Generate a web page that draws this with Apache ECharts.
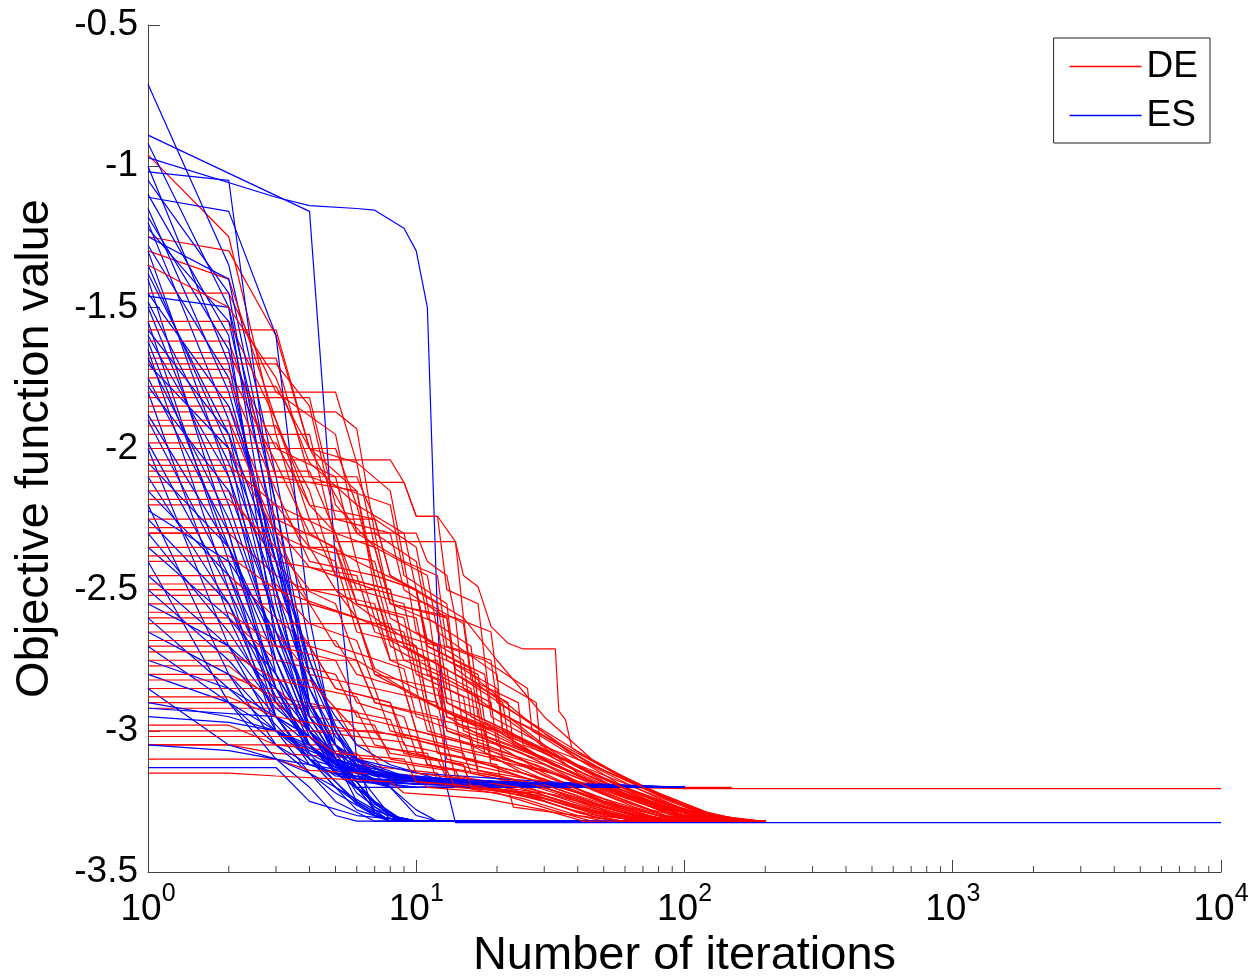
<!DOCTYPE html>
<html>
<head>
<meta charset="utf-8">
<script src="https://cdn.jsdelivr.net/npm/echarts@6/dist/echarts.min.js"></script>
<style>
html,body{margin:0;padding:0;background:#fff;}
#chart{width:1254px;height:980px;}
</style>
</head>
<body>
<div id="chart"></div>
<script>
// Axis ticks
const xMajorTicks = [1, 10, 100, 1000, 10000];
const xMinorTicks = [2,3,4,5,6,7,8,9,20,30,40,50,60,70,80,90,200,300,400,500,600,700,800,900,2000,3000,4000,5000,6000,7000,8000,9000];
const yTicks = [-3.5, -3, -2.5, -2, -1.5, -1, -0.5];

// DE runs: [iteration, best objective value] breakpoints
const deRuns = [
  [[1,-0.96],[2,-1.25],[3,-1.95],[4,-2.35],[5,-2.5],[7,-2.6],[8,-2.75],[12,-2.75],[13,-2.95],[20,-3.05],[30,-3.15],[50,-3.25],[80,-3.3],[120,-3.32],[200,-3.32]],
  [[1,-1.25],[2,-1.3],[3,-1.6],[4,-2.0],[6,-2.3],[7,-2.3],[8,-2.55],[14,-2.6],[15,-2.85],[25,-3.0],[40,-3.15],[70,-3.25],[110,-3.3],[160,-3.32],[200,-3.32]],
  [[1,-1.66],[2,-1.66],[3,-2.0],[5,-2.1],[6,-2.4],[10,-2.5],[11,-2.7],[18,-2.8],[19,-2.95],[30,-3.05],[45,-3.15],[80,-3.25],[130,-3.31],[180,-3.32],[200,-3.32]],
  [[1,-1.68],[3,-1.68],[4,-2.1],[8,-2.2],[9,-2.45],[13,-2.55],[14,-2.8],[22,-2.9],[23,-3.05],[35,-3.12],[55,-3.2],[90,-3.28],[140,-3.32],[200,-3.32]],
  [[1,-1.78],[3,-1.78],[4,-2.0],[6,-2.05],[7,-2.35],[11,-2.45],[12,-2.65],[20,-2.8],[21,-3.0],[35,-3.1],[60,-3.2],[100,-3.205],[10000,-3.205]],
  [[1,-1.87],[5,-1.87],[6,-1.93],[7,-2.3],[10,-2.4],[11,-2.6],[16,-2.7],[17,-2.9],[28,-3.0],[45,-3.12],[70,-3.2],[110,-3.28],[170,-3.32],[200,-3.32]],
  [[1,-2.0],[5,-2.0],[6,-2.2],[9,-2.3],[10,-2.5],[15,-2.6],[16,-2.8],[25,-2.95],[40,-3.1],[65,-3.2],[100,-3.27],[150,-3.32],[200,-3.32]],
  [[1,-2.04],[8,-2.04],[9,-2.12],[10,-2.24],[12,-2.24],[14,-2.33],[15,-2.6],[20,-2.75],[30,-2.95],[45,-3.1],[70,-3.2],[120,-3.3],[190,-3.32],[200,-3.32]],
  [[1,-2.12],[9,-2.12],[10,-2.24],[12,-2.24],[13,-2.5],[17,-2.55],[18,-2.75],[26,-2.85],[27,-3.0],[40,-3.1],[60,-3.2],[90,-3.26],[130,-3.32],[200,-3.32]],
  [[1,-1.95],[4,-1.95],[5,-2.33],[14,-2.33],[15,-2.45],[17,-2.49],[19,-2.63],[22,-2.69],[25,-2.71],[33,-2.71],[34,-2.93],[36,-2.96],[38,-3.06],[55,-3.15],[80,-3.22],[130,-3.3],[195,-3.32],[200,-3.32]],
  [[1,-2.2],[3,-2.2],[4,-2.35],[7,-2.4],[8,-2.6],[12,-2.7],[13,-2.9],[20,-3.0],[30,-3.1],[50,-3.2],[80,-3.27],[120,-3.32],[200,-3.32]],
  [[1,-2.3],[2,-2.3],[3,-2.45],[5,-2.55],[6,-2.75],[9,-2.85],[10,-3.0],[16,-3.05],[25,-3.15],[40,-3.22],[70,-3.3],[100,-3.32],[200,-3.32]],
  [[1,-2.4],[3,-2.4],[4,-2.55],[6,-2.6],[7,-2.8],[11,-2.9],[12,-3.05],[20,-3.1],[35,-3.2],[60,-3.28],[90,-3.32],[200,-3.32]],
  [[1,-2.5],[5,-2.5],[6,-2.6],[8,-2.65],[9,-2.85],[14,-2.95],[15,-3.1],[25,-3.15],[40,-3.22],[65,-3.3],[100,-3.32],[200,-3.32]],
  [[1,-2.5],[7,-2.5],[8,-2.7],[10,-2.75],[11,-2.95],[18,-3.0],[19,-3.12],[30,-3.17],[50,-3.25],[80,-3.31],[110,-3.32],[200,-3.32]],
  [[1,-2.52],[3,-2.52],[4,-2.7],[6,-2.75],[7,-2.9],[12,-2.95],[13,-3.1],[22,-3.15],[40,-3.22],[70,-3.3],[100,-3.32],[200,-3.32]],
  [[1,-2.6],[2,-2.6],[3,-2.75],[5,-2.8],[6,-2.95],[10,-3.0],[11,-3.12],[18,-3.16],[30,-3.2],[50,-3.28],[75,-3.32],[200,-3.32]],
  [[1,-2.7],[4,-2.7],[5,-2.85],[8,-2.9],[9,-3.02],[15,-3.08],[16,-3.15],[28,-3.2],[45,-3.26],[70,-3.31],[100,-3.32],[200,-3.32]],
  [[1,-2.77],[2,-2.77],[3,-2.9],[6,-2.93],[7,-3.05],[12,-3.1],[13,-3.17],[25,-3.2],[40,-3.25],[60,-3.3],[90,-3.32],[200,-3.32]],
  [[1,-2.85],[3,-2.85],[4,-2.95],[7,-2.98],[8,-3.1],[14,-3.14],[15,-3.2],[28,-3.22],[45,-3.28],[70,-3.32],[200,-3.32]],
  [[1,-2.92],[5,-2.92],[6,-3.0],[10,-3.02],[11,-3.12],[20,-3.16],[35,-3.22],[55,-3.28],[80,-3.32],[200,-3.32]],
  [[1,-3.05],[2,-3.05],[3,-3.08],[7,-3.1],[8,-3.17],[15,-3.2],[25,-3.24],[40,-3.3],[60,-3.32],[200,-3.32]],
  [[1,-3.05],[5,-3.05],[6,-3.12],[12,-3.15],[13,-3.2],[22,-3.2],[23,-3.27],[40,-3.3],[50,-3.32],[200,-3.32]],
  [[1,-1.55],[2,-1.55],[3,-1.9],[4,-2.2],[5,-2.3],[7,-2.35],[8,-2.55],[12,-2.62],[13,-2.85],[22,-2.95],[35,-3.1],[55,-3.2],[90,-3.28],[140,-3.32],[200,-3.32]],
  [[1,-1.72],[2,-1.72],[3,-2.05],[4,-2.3],[6,-2.4],[7,-2.6],[10,-2.7],[11,-2.9],[18,-3.0],[30,-3.1],[50,-3.2],[85,-3.27],[125,-3.32],[200,-3.32]],
  [[1,-1.92],[3,-1.92],[4,-2.15],[5,-2.45],[8,-2.5],[9,-2.7],[14,-2.8],[15,-3.0],[25,-3.08],[40,-3.18],[70,-3.26],[110,-3.32],[200,-3.32]],
  [[1,-2.08],[4,-2.08],[5,-2.3],[6,-2.5],[9,-2.55],[10,-2.75],[16,-2.85],[17,-3.05],[30,-3.12],[50,-3.2],[150,-3.2]],
  [[1,-1.3],[2,-1.4],[3,-1.9],[4,-2.25],[7,-2.25],[8,-2.45],[12,-2.55],[13,-2.75],[20,-2.85],[21,-3.0],[35,-3.1],[60,-3.2],[95,-3.28],[150,-3.32],[200,-3.32]],
  [[1,-1.45],[2,-1.45],[3,-1.8],[5,-1.95],[6,-2.3],[9,-2.4],[10,-2.65],[15,-2.75],[16,-2.95],[26,-3.05],[42,-3.15],[70,-3.24],[115,-3.31],[175,-3.32],[200,-3.32]],
  [[1,-1.62],[2,-1.62],[3,-2.1],[6,-2.15],[7,-2.5],[11,-2.55],[12,-2.8],[19,-2.9],[20,-3.05],[33,-3.12],[55,-3.22],[90,-3.3],[130,-3.32],[200,-3.32]],
  [[1,-1.85],[2,-1.85],[3,-2.25],[5,-2.35],[6,-2.6],[9,-2.65],[10,-2.85],[17,-2.92],[18,-3.08],[30,-3.14],[50,-3.22],[85,-3.3],[120,-3.32],[200,-3.32]],
  [[1,-2.15],[2,-2.15],[3,-2.4],[6,-2.45],[7,-2.65],[11,-2.72],[12,-2.92],[20,-3.0],[32,-3.12],[55,-3.21],[90,-3.29],[135,-3.32],[200,-3.32]],
  [[1,-2.25],[4,-2.25],[5,-2.45],[8,-2.5],[9,-2.7],[13,-2.78],[14,-2.98],[24,-3.06],[40,-3.16],[65,-3.24],[100,-3.3],[150,-3.32],[200,-3.32]],
  [[1,-2.45],[2,-2.45],[3,-2.6],[4,-2.7],[5,-2.85],[8,-2.9],[9,-3.05],[16,-3.1],[28,-3.18],[48,-3.26],[75,-3.31],[105,-3.32],[200,-3.32]],
  [[1,-2.55],[4,-2.55],[5,-2.7],[9,-2.78],[10,-2.95],[16,-3.02],[17,-3.14],[30,-3.18],[50,-3.25],[80,-3.3],[115,-3.32],[200,-3.32]],
  [[1,-2.65],[3,-2.65],[4,-2.8],[7,-2.85],[8,-3.0],[13,-3.05],[14,-3.16],[26,-3.2],[44,-3.27],[70,-3.32],[200,-3.32]],
  [[1,-2.8],[2,-2.8],[3,-2.88],[5,-2.92],[6,-3.05],[11,-3.08],[12,-3.18],[22,-3.21],[38,-3.28],[58,-3.32],[200,-3.32]],
  [[1,-2.9],[3,-2.9],[4,-3.0],[9,-3.04],[10,-3.15],[18,-3.18],[30,-3.24],[48,-3.3],[70,-3.32],[200,-3.32]],
  [[1,-2.98],[2,-2.98],[3,-3.05],[6,-3.08],[7,-3.15],[14,-3.18],[25,-3.22],[40,-3.29],[55,-3.32],[200,-3.32]],
  [[1,-3.1],[3,-3.1],[4,-3.14],[10,-3.16],[11,-3.2],[20,-3.22],[32,-3.28],[45,-3.32],[200,-3.32]],
  [[1,-2.35],[5,-2.35],[6,-2.55],[10,-2.6],[11,-2.8],[17,-2.88],[18,-3.02],[30,-3.1],[50,-3.2],[80,-3.26],[125,-3.32],[200,-3.32]],
  [[1,-1.82],[4,-1.82],[5,-2.2],[7,-2.35],[8,-2.55],[13,-2.6],[14,-2.78],[21,-2.9],[22,-3.02],[36,-3.1],[58,-3.2],[95,-3.27],[150,-3.32],[200,-3.32]],
  [[1,-2.75],[6,-2.75],[7,-2.9],[11,-2.95],[12,-3.08],[20,-3.12],[21,-3.2],[35,-3.23],[55,-3.3],[80,-3.32],[200,-3.32]],
  [[1,-3.0],[7,-3.0],[8,-3.08],[15,-3.12],[16,-3.2],[30,-3.24],[50,-3.3],[70,-3.32],[200,-3.32]],
  [[1,-2.0],[2,-2.0],[3,-2.3],[5,-2.4],[6,-2.65],[10,-2.7],[11,-2.9],[18,-2.98],[19,-3.1],[32,-3.15],[55,-3.22],[95,-3.3],[140,-3.32],[200,-3.32]],
  [[1,-1.7],[3,-1.7],[4,-1.85],[5,-2.25],[8,-2.3],[9,-2.5],[13,-2.6],[14,-2.8],[22,-2.92],[35,-3.05],[55,-3.15],[90,-3.25],[140,-3.31],[190,-3.32],[200,-3.32]],
  [[1,-1.75],[2,-1.75],[3,-2.15],[4,-2.4],[7,-2.45],[8,-2.65],[12,-2.7],[13,-2.9],[22,-3.0],[36,-3.12],[60,-3.22],[100,-3.3],[150,-3.32],[200,-3.32]],
  [[1,-1.8],[5,-1.8],[6,-2.05],[8,-2.15],[9,-2.4],[12,-2.45],[13,-2.7],[19,-2.75],[20,-2.9],[30,-3.0],[48,-3.12],[80,-3.22],[130,-3.3],[190,-3.32],[200,-3.32]],
  [[1,-1.9],[2,-1.9],[3,-2.3],[4,-2.55],[6,-2.6],[7,-2.8],[12,-2.85],[13,-3.0],[22,-3.08],[38,-3.18],[65,-3.27],[100,-3.32],[200,-3.32]],
  [[1,-1.98],[3,-1.98],[4,-2.2],[7,-2.25],[8,-2.45],[10,-2.5],[11,-2.68],[18,-2.75],[19,-2.92],[30,-3.02],[50,-3.14],[85,-3.24],[130,-3.3],[185,-3.32],[200,-3.32]],
  [[1,-2.06],[2,-2.06],[3,-2.2],[5,-2.3],[6,-2.55],[9,-2.6],[10,-2.8],[15,-2.88],[16,-3.05],[28,-3.12],[45,-3.2],[75,-3.28],[115,-3.32],[200,-3.32]],
  [[1,-2.1],[6,-2.1],[7,-2.25],[10,-2.35],[11,-2.55],[15,-2.62],[16,-2.82],[24,-2.9],[25,-3.05],[40,-3.12],[65,-3.2],[100,-3.28],[160,-3.32],[200,-3.32]],
  [[1,-2.18],[2,-2.18],[3,-2.35],[4,-2.5],[7,-2.55],[8,-2.75],[12,-2.82],[13,-3.0],[22,-3.06],[36,-3.15],[58,-3.23],[95,-3.3],[140,-3.32],[200,-3.32]],
  [[1,-2.28],[3,-2.28],[4,-2.42],[7,-2.5],[8,-2.68],[11,-2.75],[12,-2.92],[19,-3.0],[30,-3.1],[50,-3.2],[80,-3.28],[120,-3.32],[200,-3.32]],
  [[1,-2.38],[2,-2.38],[3,-2.5],[6,-2.6],[7,-2.78],[10,-2.85],[11,-3.0],[18,-3.06],[30,-3.16],[50,-3.24],[80,-3.3],[110,-3.32],[200,-3.32]],
  [[1,-2.48],[3,-2.48],[4,-2.62],[6,-2.68],[7,-2.85],[12,-2.9],[13,-3.05],[22,-3.1],[38,-3.2],[60,-3.27],[95,-3.32],[200,-3.32]],
  [[1,-2.58],[2,-2.58],[3,-2.7],[5,-2.75],[6,-2.9],[9,-2.95],[10,-3.08],[17,-3.14],[30,-3.2],[50,-3.27],[80,-3.32],[200,-3.32]],
  [[1,-2.68],[5,-2.68],[6,-2.8],[9,-2.85],[10,-3.0],[16,-3.05],[17,-3.15],[30,-3.19],[50,-3.26],[80,-3.31],[110,-3.32],[200,-3.32]],
  [[1,-2.72],[2,-2.72],[3,-2.82],[6,-2.88],[7,-3.0],[12,-3.05],[13,-3.16],[24,-3.2],[40,-3.27],[65,-3.32],[200,-3.32]],
  [[1,-2.82],[4,-2.82],[5,-2.92],[8,-2.96],[9,-3.08],[15,-3.12],[16,-3.2],[30,-3.23],[50,-3.29],[75,-3.32],[200,-3.32]],
  [[1,-2.88],[2,-2.88],[3,-2.95],[6,-3.0],[7,-3.1],[13,-3.14],[14,-3.2],[26,-3.22],[42,-3.28],[65,-3.32],[200,-3.32]],
  [[1,-3.02],[4,-3.02],[5,-3.08],[9,-3.1],[10,-3.18],[18,-3.2],[30,-3.25],[48,-3.31],[60,-3.32],[200,-3.32]],
  [[1,-3.15],[2,-3.15],[3,-3.16],[8,-3.18],[9,-3.22],[18,-3.24],[30,-3.28],[42,-3.32],[200,-3.32]],
  [[1,-1.58],[3,-1.58],[4,-2.0],[6,-2.15],[7,-2.45],[10,-2.5],[11,-2.72],[17,-2.8],[18,-2.97],[29,-3.06],[47,-3.16],[78,-3.25],[125,-3.31],[180,-3.32],[200,-3.32]],
  [[1,-1.35],[2,-1.5],[3,-1.75],[4,-2.05],[6,-2.2],[7,-2.45],[10,-2.5],[11,-2.7],[16,-2.78],[17,-2.95],[28,-3.05],[45,-3.15],[75,-3.25],[120,-3.31],[175,-3.32],[200,-3.32]],
  [[1,-2.3],[10,-2.3],[11,-2.4],[13,-2.45],[14,-2.6],[19,-2.65],[20,-2.82],[28,-2.9],[29,-3.05],[45,-3.12],[70,-3.2],[110,-3.28],[170,-3.32],[200,-3.32]],
  [[1,-2.62],[8,-2.62],[9,-2.75],[12,-2.8],[13,-2.95],[20,-3.0],[21,-3.1],[35,-3.16],[55,-3.24],[85,-3.3],[120,-3.32],[200,-3.32]]
];

// ES runs: [iteration, best objective value] breakpoints
const esRuns = [
  [[1,-0.71],[2,-1.35],[3,-2.1],[4,-2.7],[5,-3.0],[6,-3.15],[8,-3.3],[10,-3.32],[100,-3.32]],
  [[1,-0.97],[3,-1.11],[4,-1.14],[6,-1.15],[7,-1.156],[9,-1.22],[10,-1.3],[11,-1.5],[12,-2.6],[13,-3.2],[14,-3.325],[10000,-3.325]],
  [[1,-0.89],[4,-1.16],[5,-2.4],[6,-3.1],[7,-3.3],[8,-3.32],[100,-3.32]],
  [[1,-1.02],[2,-1.05],[3,-2.3],[4,-2.95],[5,-3.1],[7,-3.18],[10,-3.2],[100,-3.2]],
  [[1,-1.11],[2,-1.16],[3,-1.6],[4,-2.6],[5,-3.05],[6,-3.18],[10,-3.2],[100,-3.2]],
  [[1,-1.46],[2,-1.5],[3,-2.5],[4,-3.0],[5,-3.15],[8,-3.2],[100,-3.2]],
  [[1,-0.92],[2,-1.5],[3,-2.2],[4,-2.8],[5,-3.1],[7,-3.25],[9,-3.32],[100,-3.32]],
  [[1,-1.0],[2,-1.7],[3,-2.5],[4,-3.0],[5,-3.12],[7,-3.17],[20,-3.19],[100,-3.2]],
  [[1,-1.2],[2,-1.9],[3,-2.6],[4,-3.0],[6,-3.2],[8,-3.3],[10,-3.32],[100,-3.32]],
  [[1,-1.3],[2,-2.1],[3,-2.75],[4,-3.05],[5,-3.15],[10,-3.19],[100,-3.2]],
  [[1,-1.35],[2,-2.0],[3,-2.8],[4,-3.1],[5,-3.2],[7,-3.3],[9,-3.32],[100,-3.32]],
  [[1,-1.4],[2,-2.3],[3,-2.9],[4,-3.05],[6,-3.17],[15,-3.19],[100,-3.2]],
  [[1,-1.5],[2,-2.2],[3,-2.7],[4,-2.95],[5,-3.1],[6,-3.25],[8,-3.32],[100,-3.32]],
  [[1,-1.55],[2,-2.4],[3,-2.95],[4,-3.12],[6,-3.18],[20,-3.2],[100,-3.2]],
  [[1,-1.6],[2,-2.1],[3,-2.6],[4,-2.9],[5,-3.05],[7,-3.15],[12,-3.19],[100,-3.2]],
  [[1,-1.65],[2,-2.5],[3,-3.0],[4,-3.15],[5,-3.25],[7,-3.32],[100,-3.32]],
  [[1,-1.75],[2,-2.3],[3,-2.85],[4,-3.05],[5,-3.13],[10,-3.18],[40,-3.2],[100,-3.2]],
  [[1,-1.8],[2,-2.6],[3,-2.95],[4,-3.1],[6,-3.15],[10,-3.17],[50,-3.2],[100,-3.2]],
  [[1,-1.9],[2,-2.45],[3,-2.9],[4,-3.0],[5,-3.1],[6,-3.2],[8,-3.3],[10,-3.32],[100,-3.32]],
  [[1,-2.0],[2,-2.7],[3,-3.0],[4,-3.1],[5,-3.16],[10,-3.19],[100,-3.2]],
  [[1,-2.1],[2,-2.55],[3,-2.95],[4,-3.1],[5,-3.2],[6,-3.28],[8,-3.32],[100,-3.32]],
  [[1,-2.2],[2,-2.8],[3,-3.05],[4,-3.12],[6,-3.17],[30,-3.2],[100,-3.2]],
  [[1,-2.3],[2,-2.65],[3,-2.9],[4,-3.0],[5,-3.08],[8,-3.15],[20,-3.19],[100,-3.2]],
  [[1,-2.4],[2,-2.9],[3,-3.1],[4,-3.2],[5,-3.3],[6,-3.32],[100,-3.32]],
  [[1,-2.5],[2,-2.75],[3,-2.95],[4,-3.05],[5,-3.12],[7,-3.16],[15,-3.19],[100,-3.2]],
  [[1,-2.6],[2,-2.85],[3,-3.0],[4,-3.07],[6,-3.14],[10,-3.17],[40,-3.2],[100,-3.2]],
  [[1,-2.7],[2,-2.9],[3,-3.05],[4,-3.15],[5,-3.22],[7,-3.3],[9,-3.32],[100,-3.32]],
  [[1,-2.75],[2,-2.85],[3,-2.95],[4,-3.02],[5,-3.1],[8,-3.16],[25,-3.19],[100,-3.2]],
  [[1,-2.95],[2,-2.97],[3,-3.0],[4,-3.05],[5,-3.15],[7,-3.25],[9,-3.32],[100,-3.32]],
  [[1,-3.13],[3,-3.13],[4,-3.25],[6,-3.3],[10,-3.32],[100,-3.32]],
  [[1,-2.85],[2,-3.05],[3,-3.1],[4,-3.12],[6,-3.15],[10,-3.17],[30,-3.19],[100,-3.2]],
  [[1,-1.25],[2,-1.4],[3,-2.2],[4,-2.9],[5,-3.1],[8,-3.2],[100,-3.2]],
  [[1,-1.15],[2,-1.8],[3,-2.4],[4,-2.85],[5,-3.05],[6,-3.15],[8,-3.2],[10,-3.3],[12,-3.32],[100,-3.32]],
  [[1,-2.05],[2,-2.35],[3,-2.7],[4,-2.95],[5,-3.05],[6,-3.1],[10,-3.15],[30,-3.18],[100,-3.2]],
  [[1,-1.45],[2,-1.85],[3,-2.35],[4,-2.75],[5,-3.0],[6,-3.1],[8,-3.16],[20,-3.19],[100,-3.2]],
  [[1,-2.35],[2,-2.6],[3,-2.8],[4,-3.0],[5,-3.12],[6,-3.2],[7,-3.28],[8,-3.32],[100,-3.32]],
  [[1,-1.7],[2,-2.0],[3,-2.45],[4,-2.8],[5,-2.95],[6,-3.05],[8,-3.12],[12,-3.17],[40,-3.19],[100,-3.2]],
  [[1,-2.9],[2,-2.95],[3,-3.0],[4,-3.08],[5,-3.13],[10,-3.17],[100,-3.2]],
  [[1,-1.1],[2,-1.6],[3,-2.7],[4,-3.0],[5,-3.15],[6,-3.2],[10,-3.2],[100,-3.2]],
  [[1,-2.55],[2,-2.7],[3,-2.85],[4,-3.0],[5,-3.1],[6,-3.18],[7,-3.26],[9,-3.32],[100,-3.32]],
  [[1,-1.05],[2,-1.45],[3,-2.35],[4,-2.9],[5,-3.08],[7,-3.16],[15,-3.19],[100,-3.2]],
  [[1,-1.18],[2,-1.65],[3,-2.55],[4,-2.95],[5,-3.1],[6,-3.22],[8,-3.31],[10,-3.32],[100,-3.32]],
  [[1,-1.28],[2,-1.75],[3,-2.4],[4,-2.9],[5,-3.05],[6,-3.12],[10,-3.17],[40,-3.2],[100,-3.2]],
  [[1,-1.38],[2,-1.95],[3,-2.65],[4,-2.98],[5,-3.1],[6,-3.2],[7,-3.28],[9,-3.32],[100,-3.32]],
  [[1,-1.48],[2,-2.05],[3,-2.5],[4,-2.85],[5,-3.02],[6,-3.1],[9,-3.16],[25,-3.19],[100,-3.2]],
  [[1,-1.58],[2,-1.95],[3,-2.4],[4,-2.75],[5,-2.98],[6,-3.1],[8,-3.2],[10,-3.28],[12,-3.32],[100,-3.32]],
  [[1,-1.68],[2,-2.25],[3,-2.7],[4,-3.0],[5,-3.1],[7,-3.15],[12,-3.18],[50,-3.2],[100,-3.2]],
  [[1,-1.78],[2,-2.15],[3,-2.6],[4,-2.92],[5,-3.08],[6,-3.18],[7,-3.27],[9,-3.32],[100,-3.32]],
  [[1,-1.88],[2,-2.35],[3,-2.75],[4,-3.02],[5,-3.12],[8,-3.17],[30,-3.2],[100,-3.2]],
  [[1,-1.98],[2,-2.5],[3,-2.85],[4,-3.05],[5,-3.14],[7,-3.18],[20,-3.2],[100,-3.2]],
  [[1,-2.15],[2,-2.45],[3,-2.8],[4,-3.0],[5,-3.1],[6,-3.2],[8,-3.3],[10,-3.32],[100,-3.32]],
  [[1,-2.25],[2,-2.55],[3,-2.88],[4,-3.05],[5,-3.12],[9,-3.16],[30,-3.19],[100,-3.2]],
  [[1,-2.45],[2,-2.7],[3,-2.92],[4,-3.02],[5,-3.1],[7,-3.15],[20,-3.19],[100,-3.2]],
  [[1,-2.65],[2,-2.8],[3,-2.98],[4,-3.1],[5,-3.18],[6,-3.25],[8,-3.32],[100,-3.32]],
  [[1,-2.8],[2,-2.9],[3,-3.0],[4,-3.06],[5,-3.12],[8,-3.16],[40,-3.2],[100,-3.2]],
  [[1,-3.05],[2,-3.07],[3,-3.1],[4,-3.15],[5,-3.2],[7,-3.28],[9,-3.32],[100,-3.32]],
  [[1,-1.22],[2,-1.55],[3,-2.3],[4,-2.8],[5,-3.0],[6,-3.12],[8,-3.17],[30,-3.19],[100,-3.2]],
  [[1,-1.62],[2,-2.35],[3,-2.85],[4,-3.08],[5,-3.18],[6,-3.26],[8,-3.32],[100,-3.32]],
  [[1,-2.22],[2,-2.4],[3,-2.65],[4,-2.9],[5,-3.05],[6,-3.12],[9,-3.16],[20,-3.18],[100,-3.2]],
  [[1,-2.92],[3,-2.95],[4,-3.02],[5,-3.1],[7,-3.15],[15,-3.18],[100,-3.2]]
];

const FONT = "'Liberation Sans', Arial, sans-serif";
const RED = '#ff0000';
const BLUE = '#0000ff';

function runSeries(name, color, data) {
  return {
    type: 'line', name: name, data: data,
    symbol: 'none', showSymbol: false, silent: true,
    lineStyle: { color: color, width: 1.2 },
    itemStyle: { color: color },
    emphasis: { disabled: true }
  };
}

const series = [];
const n = Math.max(deRuns.length, esRuns.length);
for (let i = 0; i < n; i++) {
  if (i < deRuns.length) series.push(runSeries('DE', RED, deRuns[i]));
  if (i < esRuns.length) series.push(runSeries('ES', BLUE, esRuns[i]));
}

// minor ticks on the log x axis, placed through the axis scale
series.push({
  type: 'custom', silent: true, z: 10,
  data: xMinorTicks.map(v => [v, yTicks[0]]),
  encode: { x: 0, y: 1 },
  clip: false,
  renderItem: function (params, api) {
    const p = api.coord([api.value(0), api.value(1)]);
    return { type: 'line', shape: { x1: p[0], y1: p[1], x2: p[0], y2: p[1] - 6 },
             style: { stroke: '#444', lineWidth: 1 } };
  }
});

const chart = echarts.init(document.getElementById('chart'), null, { renderer: 'canvas' });
chart.setOption({
  animation: false,
  backgroundColor: '#fff',
  grid: { left: 148, right: 33, top: 25, bottom: 108, containLabel: false, outerBoundsMode: 'none' },
  legend: {
    data: ['DE', 'ES'],
    orient: 'vertical',
    right: 44, top: 38,
    backgroundColor: '#fff',
    borderColor: '#222', borderWidth: 1,
    padding: [10, 12, 9, 16],
    icon: 'rect',
    itemWidth: 72, itemHeight: 1.5, itemGap: 12,
    textStyle: { fontSize: 37, fontFamily: FONT, color: '#000' }
  },
  xAxis: {
    type: 'log', logBase: 10, min: xMajorTicks[0], max: xMajorTicks[xMajorTicks.length - 1],
    splitNumber: 4,
    axisLine: { show: true, lineStyle: { color: '#444', width: 1 } },
    axisTick: { show: true, inside: true, length: 12, lineStyle: { color: '#444' } },
    splitLine: { show: false },
    axisLabel: {
      margin: 10, color: '#000',
      formatter: function (v) { return '{b|10}{s|' + Math.round(Math.log10(v)) + '}'; },
      rich: {
        b: { fontSize: 37, fontFamily: FONT, color: '#000' },
        s: { fontSize: 25, fontFamily: FONT, color: '#000', padding: [0, 0, 30, 0] }
      }
    },
    name: 'Number of iterations', nameLocation: 'middle', nameGap: 58,
    nameTextStyle: { fontSize: 47, fontFamily: FONT, color: '#000' }
  },
  yAxis: {
    type: 'value', min: yTicks[0], max: yTicks[yTicks.length - 1], interval: 0.5,
    axisLine: { show: true, lineStyle: { color: '#444', width: 1 } },
    axisTick: { show: true, inside: true, length: 12, lineStyle: { color: '#444' } },
    splitLine: { show: false },
    axisLabel: { margin: 10, fontSize: 37, fontFamily: FONT, color: '#000' },
    name: 'Objective function value', nameLocation: 'middle', nameGap: 89,
    nameTextStyle: { fontSize: 47, fontFamily: FONT, color: '#000' }
  },
  series: series
});
</script>
</body>
</html>
